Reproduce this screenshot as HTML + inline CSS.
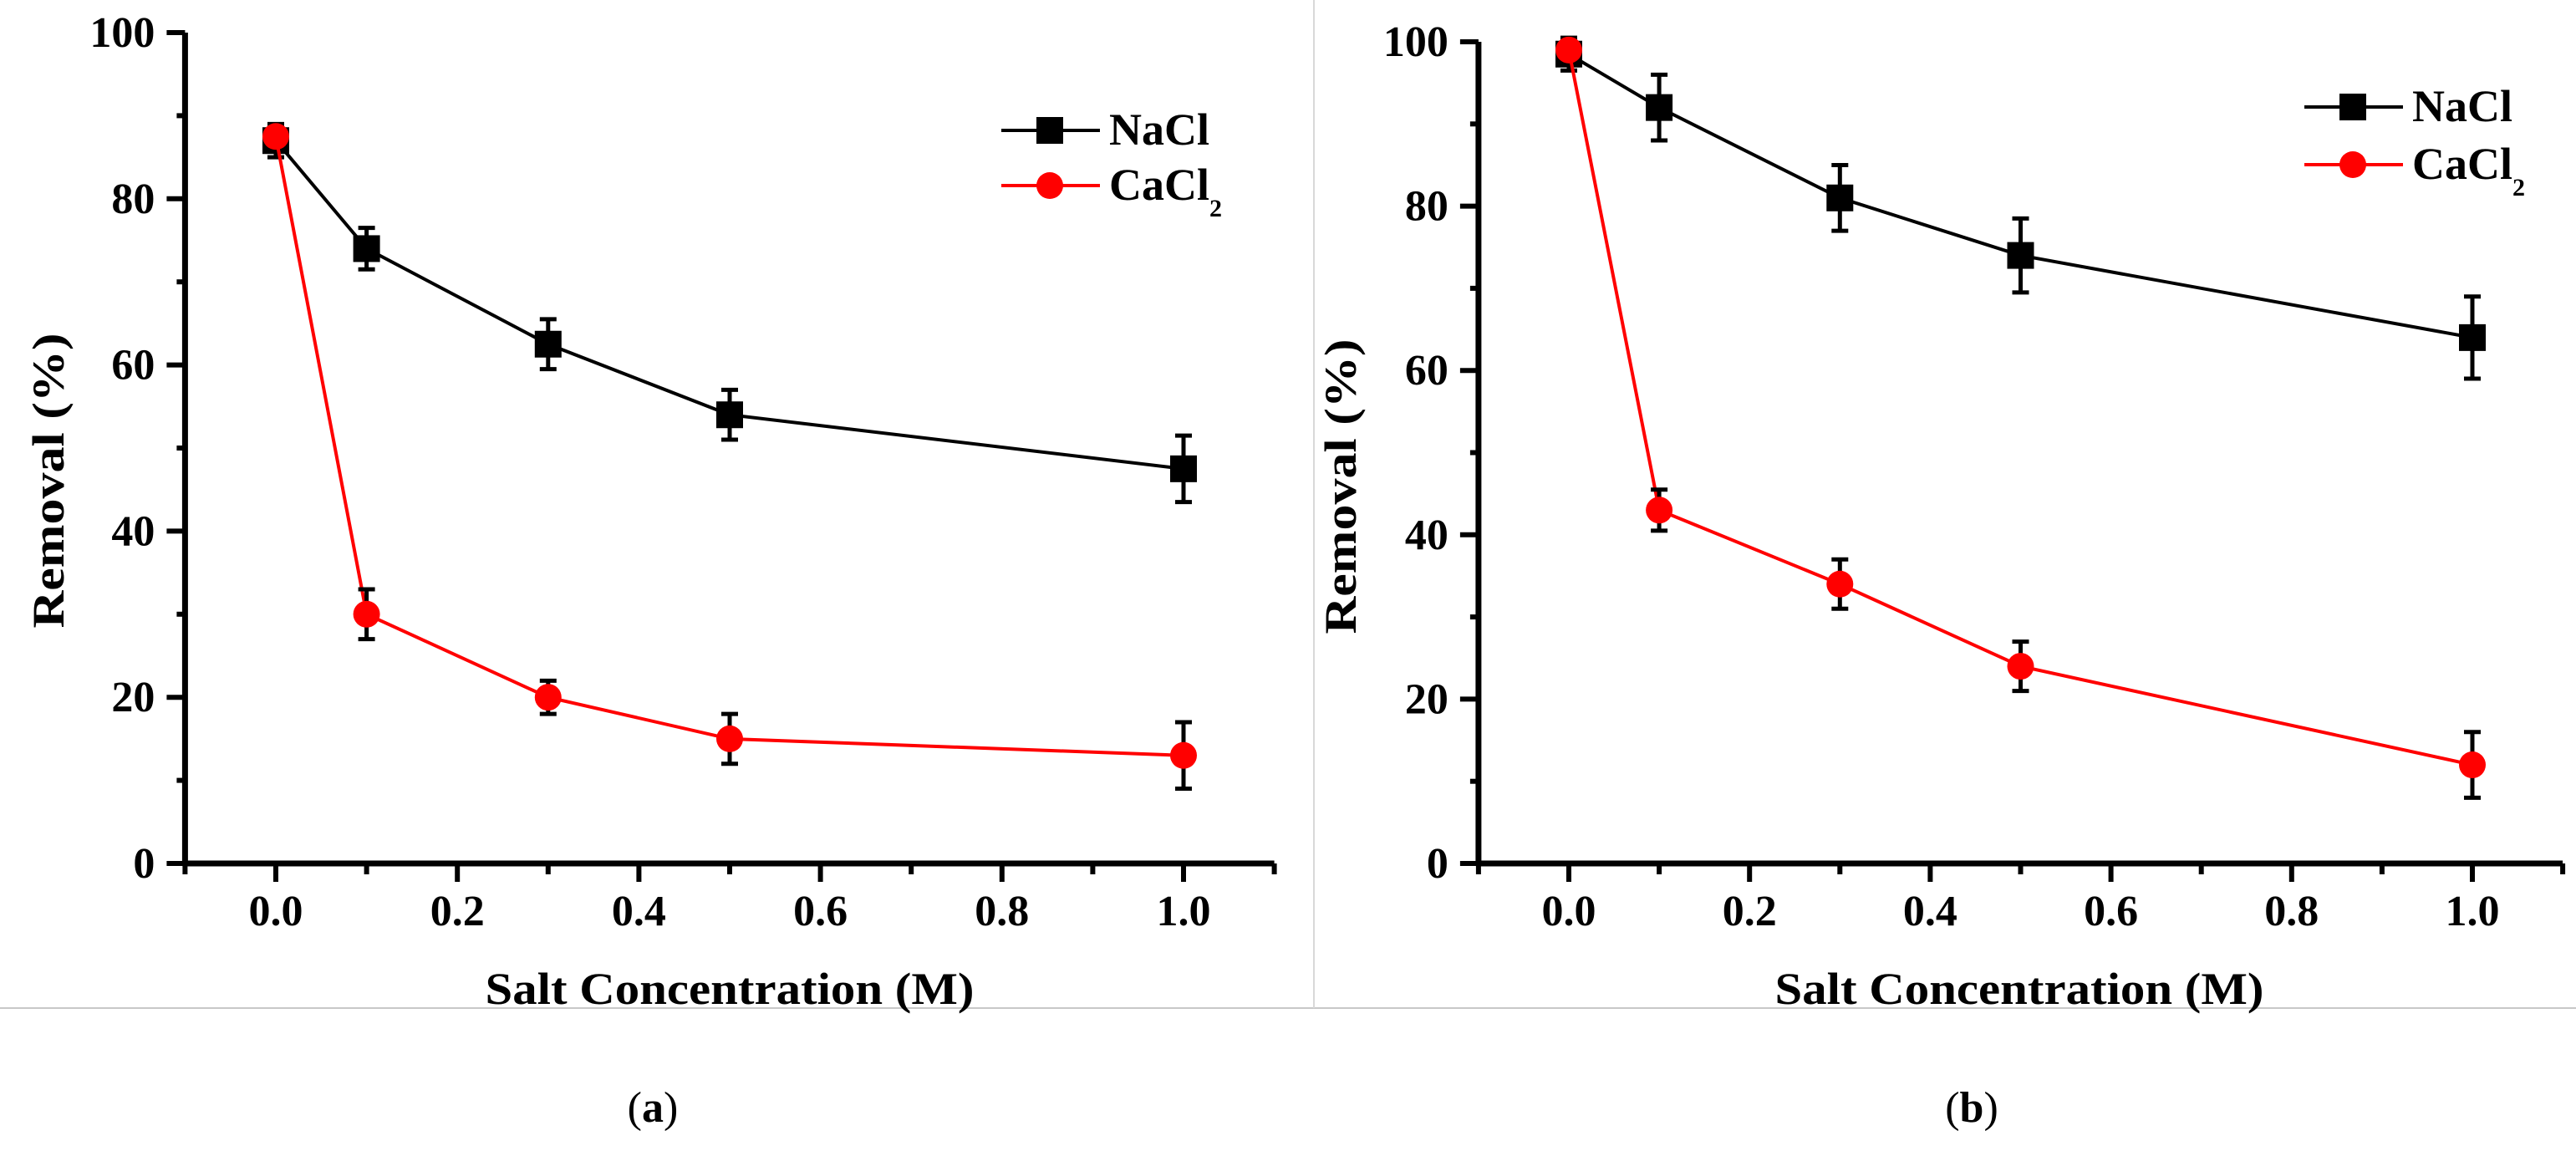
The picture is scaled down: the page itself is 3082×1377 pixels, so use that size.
<!DOCTYPE html>
<html><head><meta charset="utf-8"><style>
html,body{margin:0;padding:0;background:#fff;}
svg text{font-family:"Liberation Serif",serif;}
</style></head><body>
<svg id="chart" width="3082" height="1372" viewBox="0 0 3082 1372" xmlns="http://www.w3.org/2000/svg">
<line x1="0" y1="1206" x2="3082" y2="1206" stroke="#c8c8c8" stroke-width="2"/>
<line x1="1572" y1="0" x2="1572" y2="1206" stroke="#d8d8d8" stroke-width="2"/>
<text x="781" y="1342" font-size="52" text-anchor="middle">(<tspan font-weight="bold">a</tspan>)</text>
<text x="2359" y="1342" font-size="52" text-anchor="middle">(<tspan font-weight="bold">b</tspan>)</text>
</svg>
<script>
const xCats = [0.0, 0.1, 0.3, 0.5, 1.0];
const aNaCl = [87, 74, 62.5, 54, 47.5];
const aNaClErr = [2, 2.5, 3, 3, 4];
const aCaCl = [87.5, 30, 20, 15, 13];
const aCaClErr = [1, 3, 2, 3, 4];
const bNaCl = [98.5, 92, 81, 74, 64];
const bNaClErr = [2, 4, 4, 4.5, 5];
const bCaCl = [99, 43, 34, 24, 12];
const bCaClErr = [1, 2.5, 3, 3, 4];
const xTickLabels = ["0.0","0.2","0.4","0.6","0.8","1.0"];
const yTickLabels = ["0","20","40","60","80","100"];

const NS = "http://www.w3.org/2000/svg";
const svg = document.getElementById('chart');
function mk(tag, attrs, parent){
  const e = document.createElementNS(NS, tag);
  for (const k in attrs) e.setAttribute(k, attrs[k]);
  (parent||svg).appendChild(e); return e;
}

function panel(p){
  const g = mk('g', {});
  
  
  const X = v => p.x0 + (v - 0) * (p.x1 - p.x0);
  const Y = v => p.y0 - v * (p.y0 - p.y100) / 100;
  const axL = X(-0.1), axR = X(1.1);
  // axes
  const ya = mk('line', {x1:axL, y1:Y(100), x2:axL, y2:Y(0)+3, stroke:'#000','stroke-width':7}, g);
  
  
  const xa = mk('line', {x1:axL-3, y1:Y(0), x2:axR, y2:Y(0), stroke:'#000','stroke-width':7}, g);
  
  
  // y ticks
  for (let v=0; v<=100; v+=10){
    const major = v%20===0;
    const t = mk('line', {x1:axL-(major?22:10), y1:Y(v), x2:axL, y2:Y(v), stroke:'#000','stroke-width':6}, g);
    
    
  }
  yTickLabels.forEach((s,i)=>{
    const t = mk('text', {x:axL-36, y:Y(i*20)+17, 'font-size':52, 'font-weight':'bold','text-anchor':'end'}, g);
    t.textContent = s;
    
    
  });
  // x ticks
  for (let k=-1; k<=11; k++){
    const v = k/10, major = (k%2===0);
    const t = mk('line', {x1:X(v), y1:Y(0), x2:X(v), y2:Y(0)+(major?22:13), stroke:'#000','stroke-width':6}, g);
    
    
  }
  xTickLabels.forEach((s,i)=>{
    const t = mk('text', {x:X(i*0.2), y:Y(0)+74, 'font-size':52, 'font-weight':'bold','text-anchor':'middle'}, g);
    t.textContent = s;
    
    
  });
  const xt = mk('text', {x:p.xtX, y:1201, 'font-size':54, 'font-weight':'bold','text-anchor':'middle', textLength:585, lengthAdjust:'spacingAndGlyphs'}, g);
  xt.textContent = 'Salt Concentration (M)';
  
  
  const yt = mk('text', {x:0, y:0, 'font-size':54, 'font-weight':'bold','text-anchor':'middle', textLength:353, lengthAdjust:'spacingAndGlyphs', transform:`translate(${p.ytX},${p.ytY}) rotate(-90)`}, g);
  yt.textContent = 'Removal (%)';
  
  

  function series(vals, errs, color, shape, name){
    const sg = mk('g', {}, g);
    
    
    const pts = vals.map((v,i)=>X(xCats[i])+','+Y(v)).join(' ');
    const pl = mk('polyline', {points:pts, fill:'none', stroke:color, 'stroke-width':4}, sg);
    
    
    vals.forEach((v,i)=>{
      const cx = X(xCats[i]), e = errs[i];
      const eb = mk('path', {d:`M${cx},${Y(v+e)}V${Y(v-e)}M${cx-10},${Y(v+e)}H${cx+10}M${cx-10},${Y(v-e)}H${cx+10}`, stroke:'#000','stroke-width':5, fill:'none'}, sg);
      
      
    });
    vals.forEach((v,i)=>{
      const cx = X(xCats[i]), cy = Y(v);
      let m;
      if (shape==='sq') m = mk('rect', {x:cx-16, y:cy-16, width:32, height:32, fill:color}, sg);
      else m = mk('circle', {cx:cx, cy:cy, r:16, fill:color}, sg);
      
      
    });
  }
  series(p.na, p.naE, '#000', 'sq', 'nacl');
  series(p.ca, p.caE, '#ff0000', 'ci', 'cacl2');

  // legend
  const lg = mk('g', {}, g);
  
  
  const lx = p.legX, mid = lx + 58;
  const l1 = mk('line', {x1:lx, y1:p.legY1, x2:lx+118, y2:p.legY1, stroke:'#000','stroke-width':4}, lg);
  
  
  const r1 = mk('rect', {x:mid-16, y:p.legY1-16, width:32, height:32, fill:'#000'}, lg);
  
  
  const t1 = mk('text', {x:lx+129, y:p.legY1+17, 'font-size':54, 'font-weight':'bold'}, lg);
  t1.textContent = 'NaCl';
  
  
  const l2 = mk('line', {x1:lx, y1:p.legY2, x2:lx+118, y2:p.legY2, stroke:'#ff0000','stroke-width':4}, lg);
  
  
  const c2 = mk('circle', {cx:mid, cy:p.legY2, r:16, fill:'#ff0000'}, lg);
  
  
  const t2 = mk('text', {x:lx+129, y:p.legY2+17, 'font-size':54, 'font-weight':'bold'}, lg);
  t2.innerHTML = 'CaCl<tspan font-size="30" dy="20">2</tspan>';
  
  
}

panel({id:'panel-a', x0:330, x1:1416, y0:1033, y100:39, na:aNaCl, naE:aNaClErr, ca:aCaCl, caE:aCaClErr,
  xtX:873, ytX:76, ytY:575, legX:1198, legY1:156, legY2:222});
panel({id:'panel-b', x0:1877, x1:2958, y0:1033, y100:50, na:bNaCl, naE:bNaClErr, ca:bCaCl, caE:bCaClErr,
  xtX:2416, ytX:1622, ytY:582, legX:2757, legY1:128, legY2:197});
</script>
</body></html>
